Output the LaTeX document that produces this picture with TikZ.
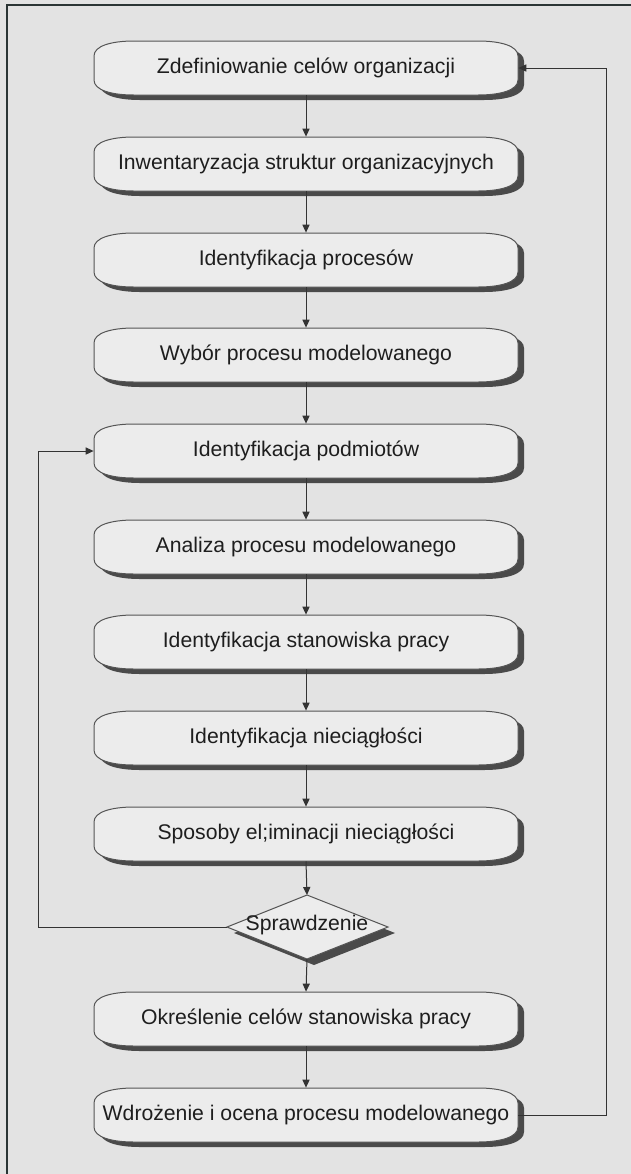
\documentclass[tikz,border=0pt]{standalone}
\usepackage{fontspec}
\setmainfont{Liberation Sans}
\usetikzlibrary{arrows.meta}
\definecolor{bgcol}{HTML}{E3E3E3}
\definecolor{boxfill}{HTML}{ECECEC}
\definecolor{boxline}{HTML}{555555}
\definecolor{shadowcol}{HTML}{4A4A4A}
\definecolor{linecol}{HTML}{333333}
\definecolor{txtcol}{HTML}{1E1E1E}
\definecolor{framecol}{HTML}{2B3535}

\newcommand{\bshape}[2]{(#1-172,#2-27) -- (#1+172,#2-27) .. controls (#1+195,#2-27) and (#1+212,#2-22) .. (#1+212,#2-12) -- (#1+212,#2+12) .. controls (#1+212,#2+22) and (#1+195,#2+27) .. (#1+172,#2+27) -- (#1-172,#2+27) .. controls (#1-195,#2+27) and (#1-212,#2+22) .. (#1-212,#2+12) -- (#1-212,#2-12) .. controls (#1-212,#2-22) and (#1-195,#2-27) .. (#1-172,#2-27) -- cycle}

\newcommand{\flowbox}[3]{%
  \fill[shadowcol] \bshape{312}{#2+5};
  \filldraw[fill=boxfill, draw=boxline, line width=0.5pt] \bshape{306}{#2};
  \node[boxtext] (#1) at (306,#2) {#3};
}

\tikzset{
  x=0.5pt, y=-0.5pt,
  boxtext/.style={minimum width=212pt, minimum height=27pt, inner sep=0pt,
    font=\fontsize{10.6}{12}\selectfont, text=txtcol},
  conn/.style={draw=linecol, line width=0.5pt, -{Triangle[length=4pt,width=3.6pt]}},
}

\begin{document}
\begin{tikzpicture}
\useasboundingbox (0,0) rectangle (631,1174);
\fill[bgcol] (0,0) rectangle (631,1174);
\draw[framecol, line width=1.1pt] (7,1174) -- (7,5) -- (631,5);

\flowbox{b1}{68}{Zdefiniowanie celów organizacji}
\flowbox{b2}{164}{Inwentaryzacja struktur organizacyjnych}
\flowbox{b3}{260}{Identyfikacja procesów}
\flowbox{b4}{355}{Wybór procesu modelowanego}
\flowbox{b5}{451}{Identyfikacja podmiotów}
\flowbox{b6}{547}{Analiza procesu modelowanego}
\flowbox{b7}{642}{Identyfikacja stanowiska pracy}
\flowbox{b8}{738}{Identyfikacja nieciągłości}
\flowbox{b9}{834}{Sposoby el;iminacji nieciągłości}
\flowbox{b10}{1019}{Określenie celów stanowiska pracy}
\flowbox{b11}{1115}{Wdrożenie i ocena procesu modelowanego}

% decision diamond
\coordinate (dT) at (307,895);
\coordinate (dR) at (388,927);
\coordinate (dB) at (307,959);
\coordinate (dL) at (227,927);
\fill[shadowcol] (314,901) -- (395,933) -- (314,965) -- (234,933) -- cycle;
\filldraw[fill=boxfill, draw=boxline, line width=0.5pt] (dT) -- (dR) -- (dB) -- (dL) -- cycle;
\node[font=\fontsize{10.6}{12}\selectfont, text=txtcol, inner sep=0pt] (chk) at (307,925) {Sprawdzenie};

% connectors
\draw[conn] (b1.south) -- (b2.north);
\draw[conn] (b2.south) -- (b3.north);
\draw[conn] (b3.south) -- (b4.north);
\draw[conn] (b4.south) -- (b5.north);
\draw[conn] (b5.south) -- (b6.north);
\draw[conn] (b6.south) -- (b7.north);
\draw[conn] (b7.south) -- (b8.north);
\draw[conn] (b8.south) -- (b9.north);
\draw[conn] (b9.south) -- (dT);
\draw[conn] (dB) -- (b10.north);
\draw[conn] (b10.south) -- (b11.north);
\draw[conn] (dL) -- (38,927) |- (b5.west);
\draw[conn] (b11.east) -- (606,1115) |- (b1.east);
\end{tikzpicture}
\end{document}
